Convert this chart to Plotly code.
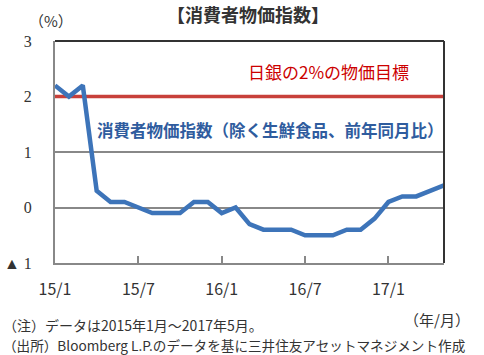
import plotly.graph_objects as go

months = list(range(29))  # 2015/1 .. 2017/5
cpi = [2.2, 2.0, 2.2, 0.3, 0.1, 0.1, 0.0, -0.1, -0.1, -0.1, 0.1, 0.1,
       -0.1, 0.0, -0.3, -0.4, -0.4, -0.4, -0.5, -0.5, -0.5, -0.4, -0.4, -0.2,
       0.1, 0.2, 0.2, 0.3, 0.4]
target = 2.0
x_tickvals = [0, 6, 12, 18, 24]
x_ticktext = ["15/1", "15/7", "16/1", "16/7", "17/1"]
y_tickvals = [-1, 0, 1, 2, 3]
y_ticktext = ["▲\u00a01", "0", "1", "2", "3"]

JP = "Noto Sans CJK JP"
fig = go.Figure()
fig.add_trace(go.Scatter(x=[months[0], months[-1]], y=[target, target], mode="lines",
                         line=dict(color="#C8403A", width=3.5), showlegend=False,
                         hoverinfo="skip"))
fig.add_trace(go.Scatter(x=months, y=cpi, mode="lines",
                         line=dict(color="#3D74B9", width=4.5), showlegend=False,
                         hoverinfo="skip"))

fig.update_layout(
    width=484, height=355,
    margin=dict(l=55, r=40, t=41, b=92),
    paper_bgcolor="white", plot_bgcolor="white",
    font=dict(family=JP, color="#333333"),
    xaxis=dict(range=[0, 28], tickvals=x_tickvals, ticktext=x_ticktext,
               showgrid=False, zeroline=False, showline=True, linecolor="#888888",
               linewidth=2, ticks="inside", ticklen=7, tickcolor="#888888", tickwidth=2,
               tickfont=dict(family=JP, size=16, color="#333333"),
               ticklabelstandoff=11, automargin=False),
    yaxis=dict(range=[-1, 3], tickvals=y_tickvals, ticktext=y_ticktext,
               showgrid=True, gridcolor="#888888", gridwidth=2, zeroline=False,
               showline=True, linecolor="#888888", linewidth=2, ticks="",
               tickfont=dict(family="Liberation Serif", size=16, color="#333333"),
               ticklabelstandoff=18, automargin=False),
    shapes=[
        dict(type="line", xref="paper", yref="paper", x0=0, x1=1, y0=1, y1=1,
             line=dict(color="#333333", width=2)),
        dict(type="line", xref="paper", yref="paper", x0=1, x1=1, y0=0, y1=1,
             line=dict(color="#333333", width=2)),
    ],
    annotations=[
        dict(text="<b>【消費者物価指数】</b>", xref="paper", yref="paper",
             x=0.5, y=1, xanchor="center", yanchor="bottom", yshift=12, xshift=-2,
             showarrow=False, font=dict(family=JP, size=18, color="#333333")),
        dict(text="（%）", xref="paper", yref="paper", x=0, y=1, xanchor="center",
             yanchor="bottom", xshift=-4, yshift=8, showarrow=False,
             font=dict(family=JP, size=15, color="#333333")),
        dict(text="日銀の2%の物価目標", xref="x", yref="y", x=19.7, y=2.45,
             xanchor="center", yanchor="middle", showarrow=False,
             font=dict(family=JP, size=17, color="#CC0000")),
        dict(text="<b>消費者物価指数（除く生鮮食品、前年同月比）</b>", xref="x", yref="y",
             x=15.5, y=1.39, xanchor="center", yanchor="middle", showarrow=False,
             font=dict(family=JP, size=16.5, color="#2F5C9E")),
        dict(text="（年/月）", xref="paper", yref="paper", x=1, y=0, xanchor="right",
             yanchor="top", xshift=28, yshift=-44, showarrow=False,
             font=dict(family=JP, size=15, color="#333333")),
        dict(text="（注）データは2015年1月～2017年5月。", xref="paper", yref="paper",
             x=0, y=0, xanchor="left", yanchor="top", xshift=-54, yshift=-50,
             showarrow=False, font=dict(family=JP, size=14, color="#333333")),
        dict(text="（出所）Bloomberg L.P.のデータを基に三井住友アセットマネジメント作成",
             xref="paper", yref="paper", x=0, y=0, xanchor="left", yanchor="top",
             xshift=-54, yshift=-70, showarrow=False,
             font=dict(family=JP, size=13.6, color="#333333")),
    ],
)
fig.write_html("out.html", config={"displayModeBar": False},
               post_script="document.body.style.margin='0';document.body.style.overflow='hidden';")
